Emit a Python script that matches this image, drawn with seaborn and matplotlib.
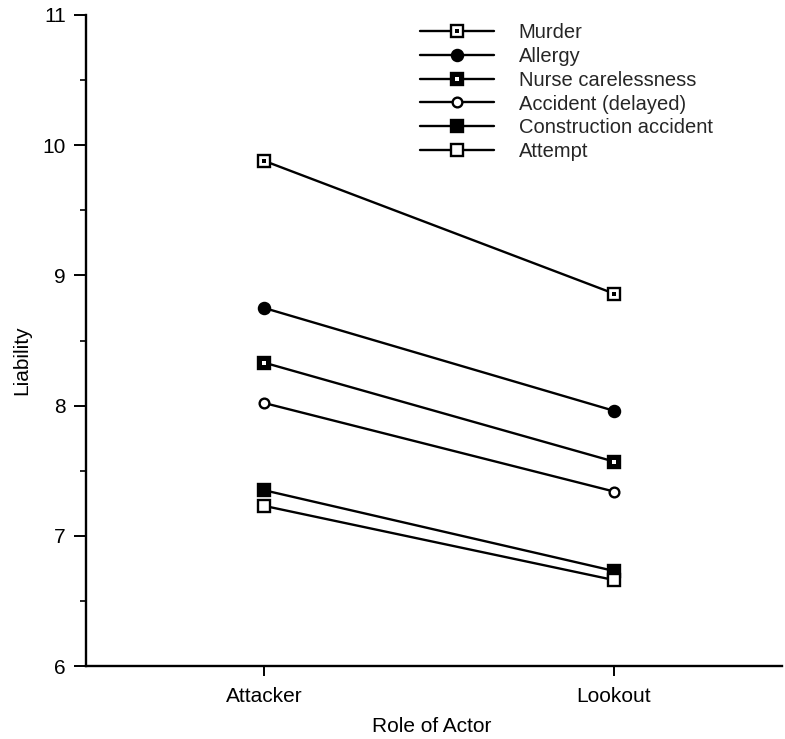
import matplotlib
matplotlib.use("Agg")
import matplotlib.pyplot as plt
from matplotlib.lines import Line2D
from matplotlib.legend_handler import HandlerTuple
from matplotlib.ticker import MultipleLocator
import seaborn as sns
import pandas as pd

roles = ["Attacker", "Lookout"]
scenarios = ["Murder", "Allergy", "Nurse carelessness", "Accident (delayed)",
             "Construction accident", "Attempt"]
murder = [9.88, 8.86]
allergy = [8.75, 7.96]
nurse = [8.33, 7.57]
accident = [8.02, 7.34]
construction = [7.35, 6.73]
attempt = [7.23, 6.66]
values = [murder, allergy, nurse, accident, construction, attempt]

rows = []
for s, v in zip(scenarios, values):
    for r, y in zip(roles, v):
        rows.append({"Role of Actor": r, "Liability": y, "Scenario": s})
df = pd.DataFrame(rows)

sns.set_style("white")
plt.rcParams["font.family"] = ["Liberation Sans", "DejaVu Sans"]

# marker specs: (marker, facecolor, size, inner dot)
styles = {
    "Murder": ("s", "white", 8, True),
    "Allergy": ("o", "black", 8, False),
    "Nurse carelessness": ("s", "black", 8, True),
    "Accident (delayed)": ("o", "white", 7, False),
    "Construction accident": ("s", "black", 8, False),
    "Attempt": ("s", "white", 8, False),
}

fig = plt.figure(figsize=(7.85, 7.39), dpi=100)
ax = fig.add_axes([86 / 785, 1 - 666 / 739, (782 - 86) / 785, (666 - 15) / 739])

handles = []
for s in scenarios:
    m, fc, ms, dot = styles[s]
    sub = df[df["Scenario"] == s]
    sns.lineplot(data=sub, x="Role of Actor", y="Liability", color="black",
                 lw=1.7, marker=m, markersize=ms, markerfacecolor=fc,
                 markeredgecolor="black", markeredgewidth=1.7, ax=ax,
                 legend=False, zorder=3)
    dotcol = "white" if fc == "black" else "black"
    if dot:
        sns.scatterplot(data=sub, x="Role of Actor", y="Liability", color=dotcol,
                        marker="s", s=5, linewidth=0, ax=ax, legend=False, zorder=4)
    h_line = Line2D([], [], color="black", lw=1.7, marker=m, markersize=ms,
                    markerfacecolor=fc, markeredgecolor="black", markeredgewidth=1.7)
    if dot:
        h_dot = Line2D([], [], ls="none", marker="s", markersize=2.2,
                       markerfacecolor=dotcol, markeredgewidth=0)
        handles.append((h_line, h_dot))
    else:
        handles.append(h_line)

ax.set_xlim(-0.509, 1.48)
ax.set_ylim(6, 11)
ax.yaxis.set_minor_locator(MultipleLocator(0.5))
ax.set_yticks([6, 7, 8, 9, 10, 11])
ax.set_yticklabels(["6", "7", "8", "9", "10", "11"])

for side in ["top", "right"]:
    ax.spines[side].set_visible(False)
for side in ["left", "bottom"]:
    ax.spines[side].set_linewidth(1.7)
    ax.spines[side].set_color("black")

ax.tick_params(axis="y", which="major", direction="out", length=8.5, width=1.4,
               labelsize=15, pad=6, left=True, colors="black")
ax.tick_params(axis="y", which="minor", direction="out", length=4.5, width=1.4, left=True)
ax.tick_params(axis="x", which="major", direction="out", length=7, width=1.4,
               labelsize=15, pad=8, bottom=True, colors="black")

ax.set_xlabel("Role of Actor", fontsize=15, color="black")
ax.set_ylabel("Liability", fontsize=15, color="black")
ax.xaxis.set_label_coords(0.497, -0.078)
ax.yaxis.set_label_coords(-0.078, 0.47)

leg = fig.legend(handles, scenarios, loc="upper left",
                 bbox_to_anchor=(420 / 785, 1 - 23 / 739),
                 bbox_transform=fig.transFigure,
                 frameon=False, fontsize=14.5, handlelength=3.65,
                 handletextpad=1.25, labelspacing=0.24, borderpad=0,
                 borderaxespad=0,
                 handler_map={tuple: HandlerTuple(ndivide=1, pad=0)})

fig.savefig("out.png", dpi=100, facecolor="white")
